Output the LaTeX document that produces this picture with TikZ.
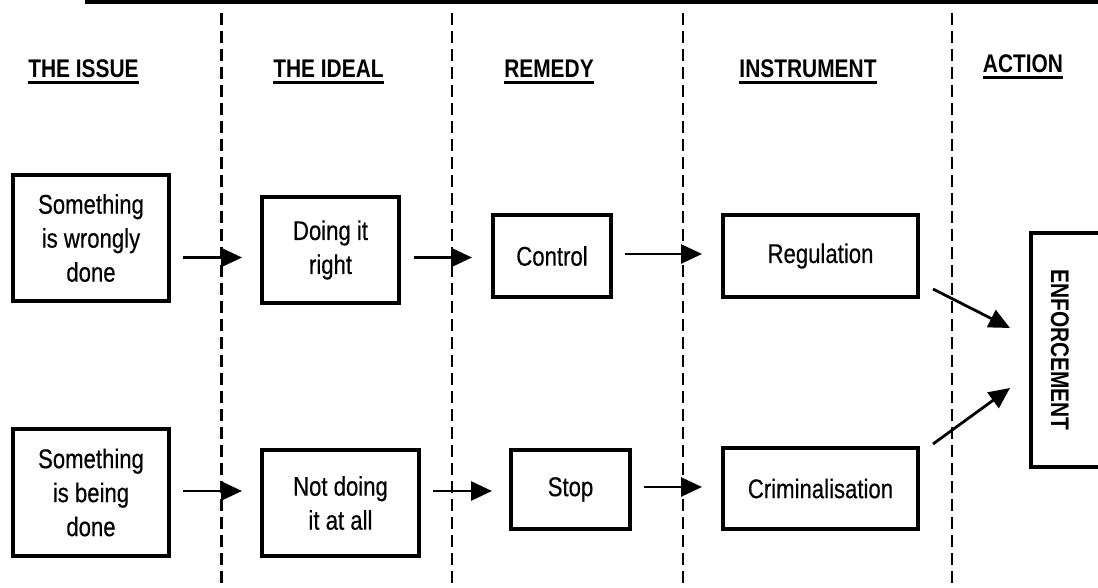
\documentclass[tikz,border=0pt]{standalone}
\usepackage{fontspec}
\setmainfont[FakeStretch=0.82]{Liberation Sans}
\newfontfamily\bodyfont[FakeStretch=0.82,FakeBold=0.4]{Liberation Sans}
\usetikzlibrary{arrows.meta,calc}

\begin{document}
\begin{tikzpicture}[x=1pt,y=-1pt,
  box/.style={draw,line width=3.4pt,inner sep=0pt,outer sep=0pt,align=center,
    font=\bodyfont\fontsize{27}{34}\selectfont},
  head/.style={inner sep=0pt,outer sep=0pt,anchor=base,
    font=\fontsize{25.5}{30}\selectfont\bfseries},
  hline/.style={line width=2.8pt},
  divider/.style={line width=2.4pt,dash pattern=on 12pt off 6pt},
  flow/.style={line width=2.8pt,-{Triangle[length=21pt,width=19pt]}}]

\useasboundingbox (0,0) rectangle (1098,588);

% heavy rule along the top
\fill (85,0) rectangle (1098,4.5);

% column dividers
\foreach \x in {221.5,452,683,952}
  \draw[divider] (\x,13) -- (\x,588);

% column headings
\node[head] (h1) at (83.5,78) {THE ISSUE};
\node[head] (h2) at (328.5,78) {THE IDEAL};
\node[head] (h3) at (549,78) {REMEDY};
\node[head] (h4) at (808,78) {INSTRUMENT};
\node[head] (h5) at (1023,73) {ACTION};
\foreach \h in {h1,h2,h3,h4,h5}
  \draw[hline] ($(\h.base west)+(0,4.5)$) -- ($(\h.base east)+(0,4.5)$);

% upper row
\node[box,minimum width=156pt,minimum height=126pt] (A1) at (91,238)
  {Something\\is wrongly\\done};
\node[box,minimum width=137pt,minimum height=106pt] (B1) at (330.5,250)
  {Doing it\\right};
\node[box,minimum width=118pt,minimum height=82pt] (C1) at (552,256) {Control};
\node[box,minimum width=195pt,minimum height=82pt] (D1) at (820.5,256) {Regulation};

% lower row
\node[box,minimum width=156pt,minimum height=127pt] (A2) at (91,492.5)
  {Something\\is being\\done};
\node[box,minimum width=157pt,minimum height=106pt] (B2) at (340.5,503)
  {Not doing\\it at all};
\node[box,minimum width=119pt,minimum height=79pt] (C2) at (570.5,489.5) {Stop};
\node[box,minimum width=195pt,minimum height=81pt] (D2) at (820.5,488.5) {Criminalisation};

% action box, text running downwards
\node[box,rotate=-90,minimum width=234pt,minimum height=69pt,text height=29pt,text depth=0pt,
  font=\fontsize{25.5}{30}\selectfont\bfseries] (E) at (1065.5,350) {ENFORCEMENT};

% connectors
\draw[flow] ($(A1.east)+(14,19.5)$) -- ($(B1.west)+(-20,7.5)$);
\draw[flow] ($(B1.east)+(15,7.5)$) -- ($(C1.west)+(-21,1.5)$);
\draw[flow] ($(C1.east)+(14,-2)$) -- ($(D1.west)+(-21,-2)$);
\draw[flow] ($(A2.east)+(14,-1.5)$) -- ($(B2.west)+(-20,-12)$);
\draw[flow] ($(B2.east)+(14,-12)$) -- ($(C2.west)+(-19,1.5)$);
\draw[flow] ($(C2.east)+(14,-2.5)$) -- ($(D2.west)+(-21,-1.5)$);
\draw[flow] ($(D1.south east)+(15,-8)$) -- ($(E.south)+(-21,-22)$);
\draw[flow] ($(D2.north east)+(15,-4)$) -- ($(E.south)+(-21,38)$);
\end{tikzpicture}
\end{document}
